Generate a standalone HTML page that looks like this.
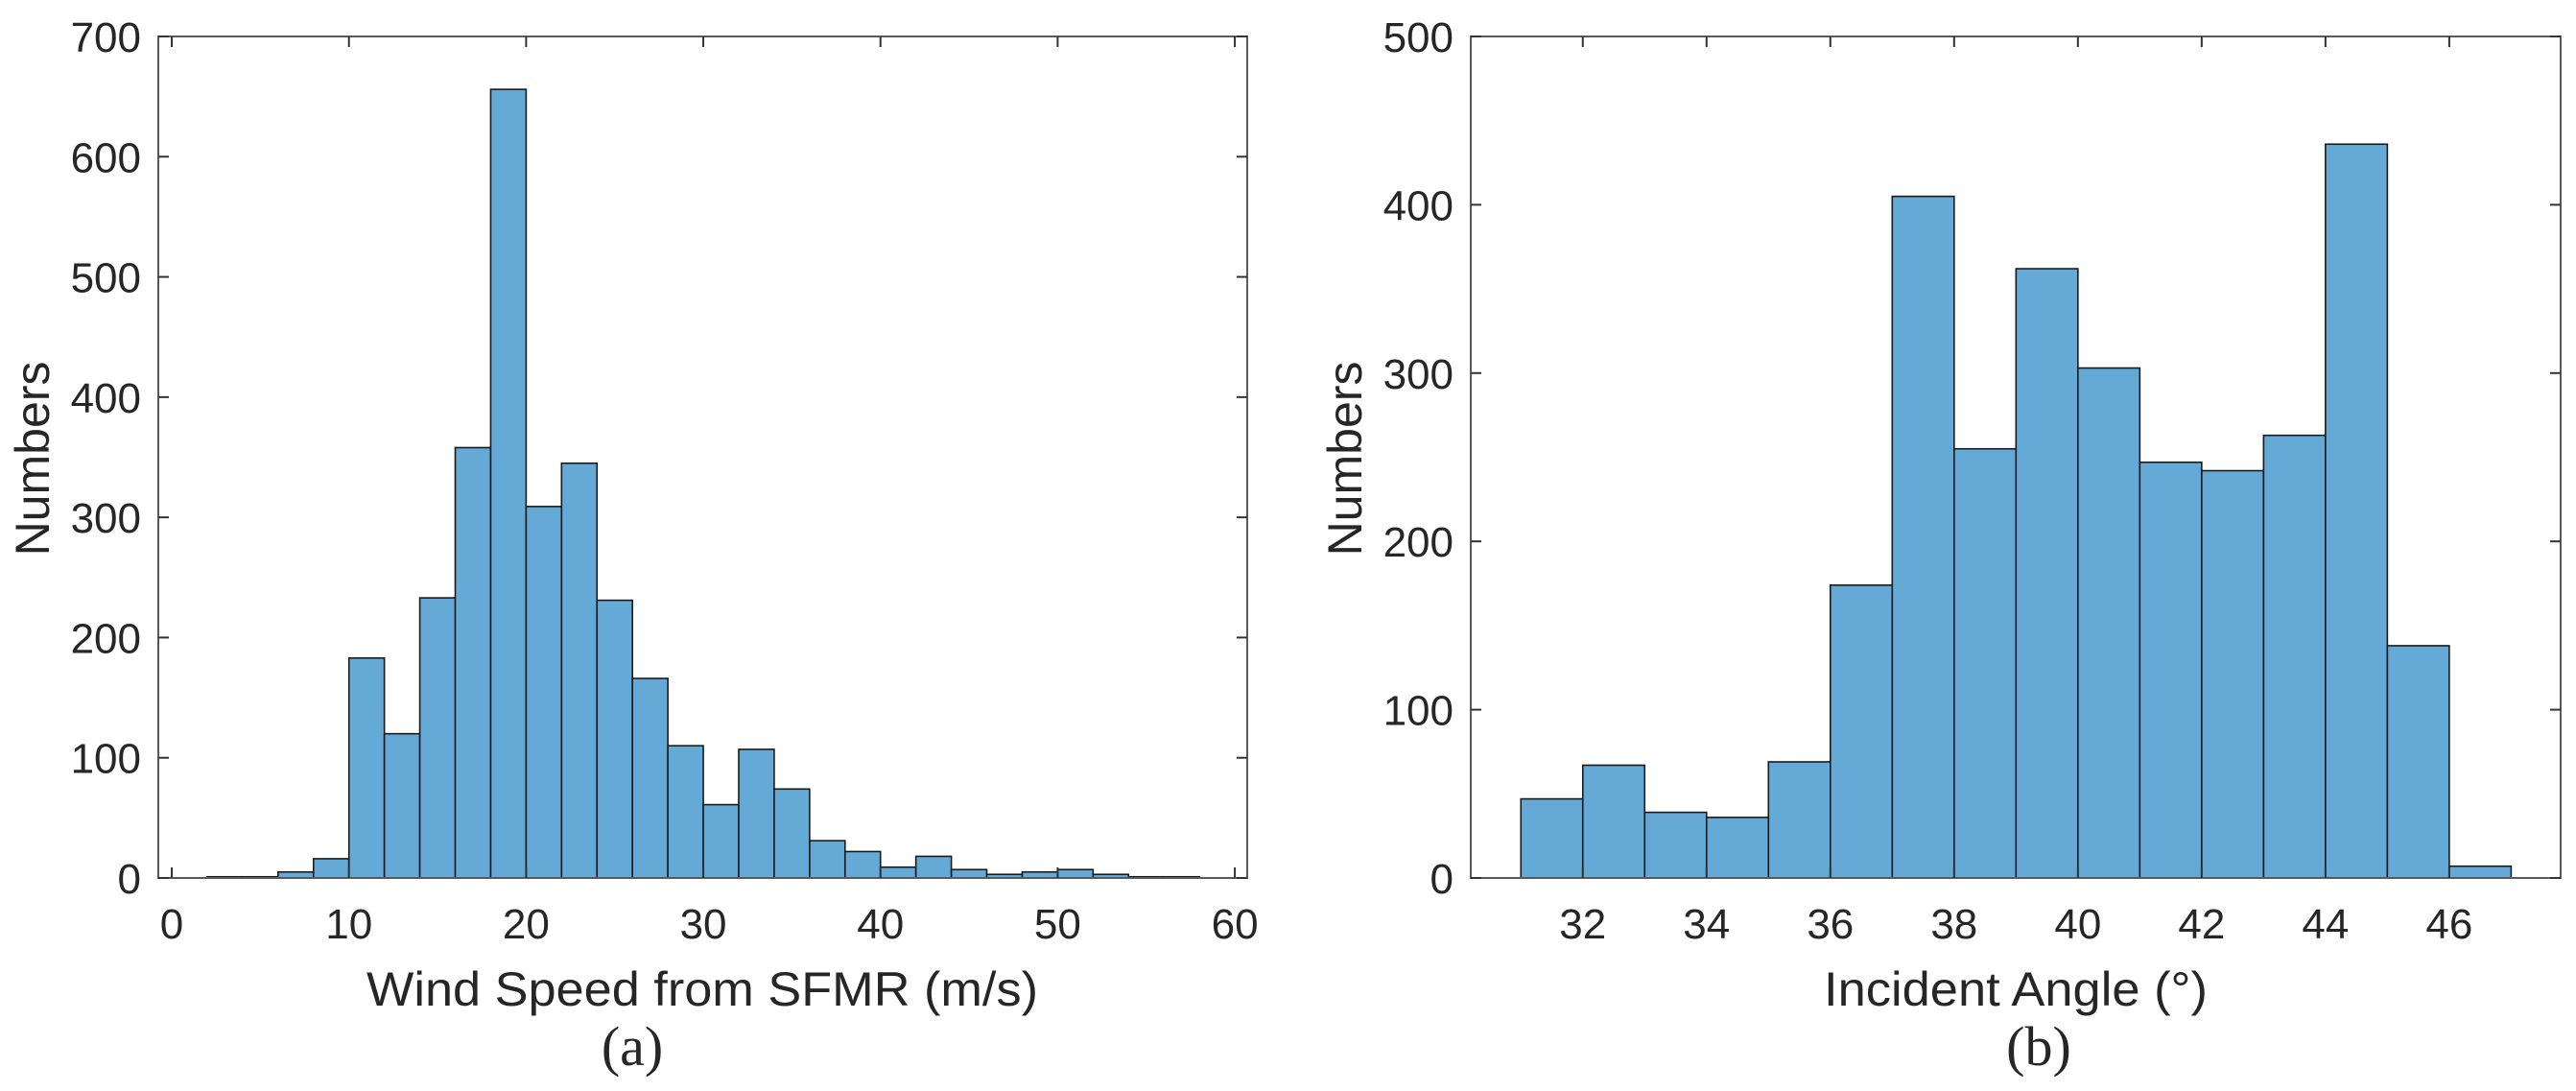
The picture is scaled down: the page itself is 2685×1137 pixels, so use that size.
<!DOCTYPE html>
<html><head><meta charset="utf-8"><style>
body{margin:0;background:#fff}
svg{display:block}
text{font-family:"Liberation Sans",sans-serif;fill:#262626}
</style></head><body>
<svg id="fig" width="2685" height="1137" viewBox="0 0 2685 1137"></svg>
<script>
// Panel (a): wind speed histogram
const windEdgesStart = 2;
const windBinWidth = 2;
const windCounts = [1,1,5,16,183,120,233,358,656,309,345,231,166,110,61,107,74,31,22,9,18,7,3,5,7,3,1,1];
const windXTicks = [0,10,20,30,40,50,60];
const windYTicks = [0,100,200,300,400,500,600,700];
// Panel (b): incident angle histogram
const angleEdgesStart = 31;
const angleBinWidth = 1;
const angleCounts = [47,67,39,36,69,174,405,255,362,303,247,242,263,436,138,7];
const angleXTicks = [32,34,36,38,40,42,44,46];
const angleYTicks = [0,100,200,300,400,500];

const NS = "http://www.w3.org/2000/svg";
const svg = document.getElementById('fig');
function mk(tag, attrs, parent){
  const e = document.createElementNS(NS, tag);
  for (const k in attrs) e.setAttribute(k, attrs[k]);
  (parent||svg).appendChild(e);
  return e;
}

function panel(o){
  const g = mk('g', {});
  
  
  const sx = v => o.x0 + (v - o.xmin) / (o.xmax - o.xmin) * (o.x1 - o.x0);
  const sy = v => o.y1 - (v - o.ymin) / (o.ymax - o.ymin) * (o.y1 - o.y0);
  o.counts.forEach((c, i) => {
    const a = o.start + i * o.bw, b = a + o.bw;
    const r = mk('rect', {x: sx(a), y: sy(c), width: sx(b) - sx(a), height: sy(0) - sy(c),
      fill: '#65a9d7', stroke: '#1a1a1a', 'stroke-width': 1.6}, g);
    
    
  });
  const box = mk('rect', {x: o.x0, y: o.y0, width: o.x1 - o.x0, height: o.y1 - o.y0,
    fill: 'none', stroke: '#5a5a5a', 'stroke-width': 2}, g);
  
  
  o.xt.forEach(t => {
    const x = sx(t);
    mk('line', {x1: x, x2: x, y1: o.y1, y2: o.y1 - 11, stroke: '#333', 'stroke-width': 2}, g);
    mk('line', {x1: x, x2: x, y1: o.y0, y2: o.y0 + 11, stroke: '#333', 'stroke-width': 2}, g);
    const tx = mk('text', {x: x, y: 978, 'text-anchor': 'middle', 'font-size': 44}, g);
    tx.textContent = t;
    
    
  });
  o.yt.forEach(t => {
    const y = sy(t);
    mk('line', {x1: o.x0, x2: o.x0 + 11, y1: y, y2: y, stroke: '#333', 'stroke-width': 2}, g);
    mk('line', {x1: o.x1, x2: o.x1 - 11, y1: y, y2: y, stroke: '#333', 'stroke-width': 2}, g);
    const tx = mk('text', {x: o.x0 - 18, y: y + 16, 'text-anchor': 'end', 'font-size': 44}, g);
    tx.textContent = t;
    
    
  });
  const xl = mk('text', {x: o.titleX, y: 1048, 'text-anchor': 'middle', 'font-size': 50,
    textLength: o.titleLen, lengthAdjust: 'spacingAndGlyphs'}, g);
  xl.textContent = o.xlabel;
  
  
  const yl = mk('text', {x: 0, y: 0, 'text-anchor': 'middle', 'font-size': 50,
    transform: 'translate(' + (o.ylabX + 18) + ',478) rotate(-90)'}, g);
  yl.textContent = 'Numbers';
  
  
  const cap = mk('text', {x: o.capX, y: 1110, 'text-anchor': 'middle', 'font-size': 58,
    style: 'font-family:"Liberation Serif",serif'}, g);
  cap.textContent = o.cap;
  
  
}

panel({name: 'wind-speed-histogram', x0: 165, x1: 1300, y0: 38, y1: 915,
  xmin: -0.76, xmax: 60.7, ymin: 0, ymax: 700, counts: windCounts, start: windEdgesStart, bw: windBinWidth,
  xt: windXTicks, yt: windYTicks, xlabel: 'Wind Speed from SFMR (m/s)', titleX: 732, titleLen: 700, ylabX: 33, capX: 659, cap: '(a)'});
panel({name: 'incident-angle-histogram', x0: 1533, x1: 2669, y0: 38, y1: 915,
  xmin: 30.19, xmax: 47.8, ymin: 0, ymax: 500, counts: angleCounts, start: angleEdgesStart, bw: angleBinWidth,
  xt: angleXTicks, yt: angleYTicks, xlabel: 'Incident Angle (°)', titleX: 2101, titleLen: 400, ylabX: 1401, capX: 2125, cap: '(b)'});
</script>
</body></html>
